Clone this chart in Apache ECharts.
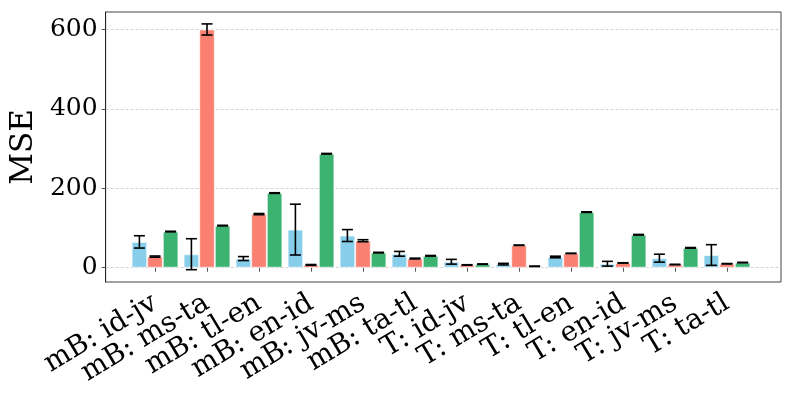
<!DOCTYPE html>
<html>
<head>
<meta charset="utf-8">
<script src="https://cdn.jsdelivr.net/npm/echarts@6/dist/echarts.min.js"></script>
<style>
  html, body { margin: 0; padding: 0; background: #fff; }
  #chart { width: 793px; height: 397px; }
</style>
</head>
<body>
<div id="chart"></div>
<script>
const categories = ['mB: id-jv', 'mB: ms-ta', 'mB: tl-en', 'mB: en-id', 'mB: jv-ms', 'mB: ta-tl',
  'T: id-jv', 'T: ms-ta', 'T: tl-en', 'T: en-id', 'T: jv-ms', 'T: ta-tl']
const blueVals = [65, 34, 23, 96, 81, 35, 15, 9, 27, 10, 24, 32]
const blueErr = [15.5, 39, 5, 64, 15, 6, 6, 2, 2, 6, 10, 26]
const redVals = [28, 600, 135, 7, 68, 23, 7, 56.5, 36, 12, 8, 10]
const redErr = [1.5, 14, 1.5, 1, 2.5, 1, 0.5, 0.5, 0.5, 0.5, 0.5, 0.5]
const greenVals = [91, 106, 188, 287, 38, 30, 9, 3.5, 140, 83, 50, 13]
const greenErr = [0.8, 0.8, 0.8, 0.8, 0.8, 0.8, 0.5, 0.5, 0.8, 0.8, 0.8, 0.5]
const yTicks = [0, 200, 400, 600]

const colors = ['#87CEEB', '#FA8072', '#3CB371']
const barW = 15.6
const yMin = -36, yMax = 644
const font = 'DejaVu Serif'

const chart = echarts.init(document.getElementById('chart'), null, { renderer: 'canvas' })

function barSeries(vals, k) {
  return {
    type: 'bar',
    xAxisIndex: 1,
    yAxisIndex: 1,
    data: vals,
    barWidth: barW,
    barGap: '0%',
    itemStyle: { color: colors[k], borderColor: 'rgba(255,255,255,0.6)', borderWidth: 1 },
    z: 2
  }
}

// error bars drawn at each bar's centre
function errSeries(vals, errs, k) {
  return {
    type: 'custom',
    xAxisIndex: 1,
    yAxisIndex: 1,
    data: vals.map((v, i) => [i, v, errs[i]]),
    z: 5,
    renderItem: (params, api) => {
      const i = api.value(0), v = api.value(1), e = api.value(2)
      const top = api.coord([i, v + e])
      const bot = api.coord([i, v - e])
      const x = top[0] + (k - 1) * barW
      const cap = 5.5
      const style = { stroke: '#000', lineWidth: 1.6 }
      return {
        type: 'group',
        children: [
          { type: 'line', shape: { x1: x, y1: top[1], x2: x, y2: bot[1] }, style },
          { type: 'line', shape: { x1: x - cap, y1: top[1], x2: x + cap, y2: top[1] }, style },
          { type: 'line', shape: { x1: x - cap, y1: bot[1], x2: x + cap, y2: bot[1] }, style }
        ]
      }
    }
  }
}

const option = {
  animation: false,
  grid: [
    { left: 100, right: 12, top: 12, bottom: 115, show: true, borderColor: '#444', borderWidth: 1 },
    { left: 129, right: 40, top: 12, bottom: 115 }
  ],
  xAxis: [
    { gridIndex: 0, type: 'value', show: false, min: 0, max: 1 },
    {
      gridIndex: 1,
      type: 'category',
      data: categories,
      axisLine: { show: false },
      axisTick: { show: true, alignWithLabel: true, length: 4, lineStyle: { color: '#555' } },
      axisLabel: { rotate: 31, margin: 19, fontFamily: font, fontSize: 28, color: '#000', interval: 0 }
    }
  ],
  yAxis: [
    {
      gridIndex: 0,
      type: 'value',
      min: yMin,
      max: yMax,
      splitNumber: 3,
      name: 'MSE',
      nameLocation: 'middle',
      nameGap: 64,
      nameTextStyle: { fontFamily: font, fontSize: 31, color: '#000' },
      axisLine: { show: true, lineStyle: { color: '#222' } },
      axisTick: { show: true, length: 4, customValues: yTicks, lineStyle: { color: '#555' } },
      axisLabel: { customValues: yTicks, fontFamily: font, fontSize: 25, color: '#000', margin: 8 },
      splitLine: { show: true, lineStyle: { color: '#c8c8c8', type: [3, 2], width: 0.8 } }
    },
    { gridIndex: 1, type: 'value', min: yMin, max: yMax, show: false, splitLine: { show: false } }
  ],
  series: [
    barSeries(blueVals, 0),
    barSeries(redVals, 1),
    barSeries(greenVals, 2),
    errSeries(blueVals, blueErr, 0),
    errSeries(redVals, redErr, 1),
    errSeries(greenVals, greenErr, 2)
  ]
}

chart.setOption(option)
</script>
</body>
</html>
